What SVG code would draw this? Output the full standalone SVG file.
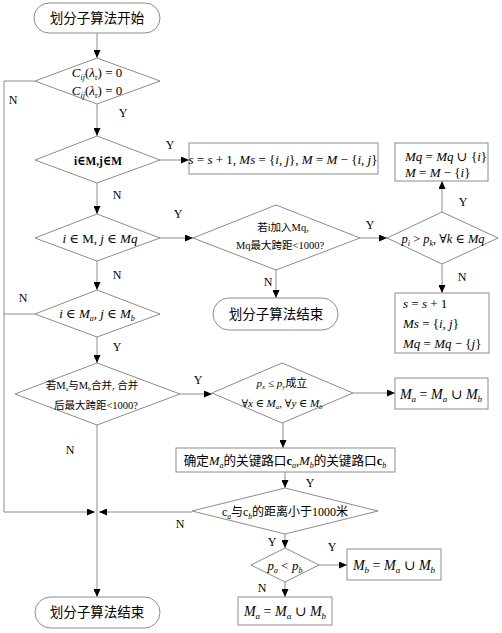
<svg xmlns="http://www.w3.org/2000/svg" width="502" height="633" viewBox="0 0 502 633">
<defs>
<marker id="ah" markerUnits="userSpaceOnUse" markerWidth="8" markerHeight="7" refX="8" refY="3.5" orient="auto">
<path d="M0,0 L8,3.5 L0,7 z" fill="#000"/>
</marker>
<style>
.ln{stroke:#8c8c8c;stroke-width:1;fill:none}
.ar{stroke:#8c8c8c;stroke-width:1;fill:none;marker-end:url(#ah)}
.sh{fill:#fff;stroke:#8c8c8c;stroke-width:1}
text{font-family:"Liberation Serif","DejaVu Serif","Noto Sans CJK SC",serif;fill:#000}
.c{text-anchor:middle}
.i{font-style:italic}
.b{font-weight:bold}
.lb{font-size:12px;text-anchor:middle}
.t{font-size:13.5px;text-anchor:middle}
</style>
</defs>
<rect width="502" height="633" fill="#fff"/>

<g id="connectors">
<path class="ar" d="M97,33 V58"/>
<path class="ar" d="M97,104 V136"/>
<path class="ar" d="M160,160 H189"/>
<path class="ar" d="M97,183 V214"/>
<path class="ar" d="M160,238 H193"/>
<path class="ar" d="M97,261 V290"/>
<path class="ar" d="M276,270 V298"/>
<path class="ar" d="M360,238 H387"/>
<path class="ar" d="M442,212 V181"/>
<path class="ar" d="M442,264 V293"/>
<path class="ar" d="M97,337 V363"/>
<path class="ar" d="M180,394 H212"/>
<path class="ar" d="M353,393 H395"/>
<path class="ar" d="M283,423 V448"/>
<path class="ar" d="M285,472 V488"/>
<path class="ar" d="M285,534 V548"/>
<path class="ar" d="M319,565 H347"/>
<path class="ar" d="M285,582 V597"/>
<path class="ar" d="M97,425 V597"/>
<path class="ar" d="M192,512 H99"/>
<path class="ar" d="M35,81 H4 V512 H95"/>
<path class="ln" d="M35,314 H4"/>
</g>

<g id="labels">
<text class="lb" x="13" y="104">N</text>
<text class="lb" x="123" y="117">Y</text>
<text class="lb" x="170" y="149">Y</text>
<text class="lb" x="117" y="199">N</text>
<text class="lb" x="178" y="218">Y</text>
<text class="lb" x="117" y="279">N</text>
<text class="lb" x="23" y="302">N</text>
<text class="lb" x="117" y="351">Y</text>
<text class="lb" x="370" y="229">Y</text>
<text class="lb" x="268" y="286">N</text>
<text class="lb" x="463" y="206">Y</text>
<text class="lb" x="462" y="281">N</text>
<text class="lb" x="198" y="384">Y</text>
<text class="lb" x="70" y="454">N</text>
<text class="lb" x="310" y="487">Y</text>
<text class="lb" x="180" y="528">N</text>
<text class="lb" x="272" y="546">Y</text>
<text class="lb" x="332" y="551">Y</text>
<text class="lb" x="262" y="592">N</text>
</g>

<g id="start">
<rect class="sh" x="34" y="3" width="126" height="30" rx="15"/>
<text class="t" x="97" y="23">划分子算法开始</text>
</g>

<g id="d1">
<polygon class="sh" points="97,58 160,81 97,104 35,81"/>
<text class="c" x="97" y="77" font-size="13"><tspan class="i">C</tspan><tspan class="i" font-size="8" dy="3">ij</tspan><tspan dy="-3">(</tspan><tspan class="i">λ</tspan><tspan font-size="8" dy="3">r</tspan><tspan dy="-3">) = 0</tspan></text>
<text class="c" x="97" y="95" font-size="13"><tspan class="i">C</tspan><tspan class="i" font-size="8" dy="3">ij</tspan><tspan dy="-3">(</tspan><tspan class="i">λ</tspan><tspan font-size="8" dy="3">r</tspan><tspan dy="-3">) = 0</tspan></text>
</g>

<g id="d2">
<polygon class="sh" points="97,136 160,160 97,183 35,160"/>
<text class="b" x="74" y="165" font-size="13" textLength="48" lengthAdjust="spacingAndGlyphs">i∈M,j∈M</text>
</g>

<g id="box1">
<rect class="sh" x="189" y="143" width="189" height="31"/>
<text class="c" x="283" y="164" font-size="13"><tspan class="i">s</tspan> = <tspan class="i">s</tspan> + 1, <tspan class="i">Ms</tspan> = {<tspan class="i">i</tspan>, <tspan class="i">j</tspan>}, <tspan class="i">M</tspan> = <tspan class="i">M</tspan> − {<tspan class="i">i</tspan>, <tspan class="i">j</tspan>}</text>
</g>

<g id="boxMq">
<rect class="sh" x="395" y="143" width="93" height="38"/>
<text x="405" y="161" font-size="13"><tspan class="i">Mq</tspan> = <tspan class="i">Mq</tspan> ∪ {<tspan class="i">i</tspan>}</text>
<text x="405" y="177" font-size="13"><tspan class="i">M</tspan> = <tspan class="i">M</tspan> − {<tspan class="i">i</tspan>}</text>
</g>

<g id="d3">
<polygon class="sh" points="97,214 160,238 97,261 35,238"/>
<text class="c" x="100" y="243" font-size="13"><tspan class="i">i</tspan> ∈ M, <tspan class="i">j</tspan> ∈ <tspan class="i">Mq</tspan></text>
</g>

<g id="d4">
<polygon class="sh" points="97,290 160,314 97,337 35,314"/>
<text class="c" x="97" y="318" font-size="13"><tspan class="i">i</tspan> ∈ <tspan class="i">M</tspan><tspan class="i" font-size="8" dy="3">a</tspan><tspan dy="-3">, </tspan><tspan class="i">j</tspan> ∈ <tspan class="i">M</tspan><tspan class="i" font-size="8" dy="3">b</tspan></text>
</g>

<g id="d5">
<polygon class="sh" points="276,205 360,238 276,270 193,238"/>
<text class="c" x="283" y="231" font-size="10.5">若i加入Mq,</text>
<text class="c" x="280" y="249" font-size="10.5">Mq最大跨距&lt;1000?</text>
</g>

<g id="end1">
<rect class="sh" x="213" y="298" width="125" height="32" rx="16"/>
<text class="t" x="276" y="319">划分子算法结束</text>
</g>

<g id="d6">
<polygon class="sh" points="442,212 498,238 442,264 387,238"/>
<text class="c" x="443" y="243" font-size="12.5"><tspan class="i">p</tspan><tspan class="i" font-size="8" dy="3">i</tspan><tspan dy="-3"> &gt; </tspan><tspan class="i">p</tspan><tspan class="i" font-size="8" dy="3">k</tspan><tspan dy="-3">, ∀</tspan><tspan class="i">k</tspan> ∈ <tspan class="i">Mq</tspan></text>
</g>

<g id="boxMs">
<rect class="sh" x="395" y="293" width="94" height="60"/>
<text x="403" y="308" font-size="13"><tspan class="i">s</tspan> = <tspan class="i">s</tspan> + 1</text>
<text x="403" y="328" font-size="13"><tspan class="i">Ms</tspan> = {<tspan class="i">i</tspan>, <tspan class="i">j</tspan>}</text>
<text x="403" y="348" font-size="13"><tspan class="i">Mq</tspan> = <tspan class="i">Mq</tspan> − {<tspan class="i">j</tspan>}</text>
</g>

<g id="d7">
<polygon class="sh" points="97,363 180,394 97,425 15,394"/>
<text class="c" x="92" y="389" font-size="10.5">若M<tspan font-size="6" dy="2">a</tspan><tspan dy="-2">与M</tspan><tspan font-size="6" dy="2">b</tspan><tspan dy="-2">合并, 合并</tspan></text>
<text class="c" x="96" y="409" font-size="10.5">后最大跨距&lt;1000?</text>
</g>

<g id="d8">
<polygon class="sh" points="282,363 353,393 282,423 212,393"/>
<text class="c" x="282" y="387" font-size="11"><tspan class="i">p</tspan><tspan class="i" font-size="7" dy="2">x</tspan><tspan dy="-2"> ≤ </tspan><tspan class="i">p</tspan><tspan class="i" font-size="7" dy="2">y</tspan><tspan dy="-2">成立</tspan></text>
<text class="c" x="282" y="407" font-size="11">∀<tspan class="i">x</tspan> ∈ <tspan class="i">M</tspan><tspan class="i" font-size="7" dy="2">a</tspan><tspan dy="-2">, ∀</tspan><tspan class="i">y</tspan> ∈ <tspan class="i">M</tspan><tspan class="i" font-size="7" dy="2">b</tspan></text>
</g>

<g id="boxMaMb1">
<rect class="sh" x="395" y="378" width="93" height="31"/>
<text class="c" x="441" y="399" font-size="14"><tspan class="i">M</tspan><tspan class="i" font-size="9" dy="3">a</tspan><tspan dy="-3"> = </tspan><tspan class="i">M</tspan><tspan class="i" font-size="9" dy="3">a</tspan><tspan dy="-3"> ∪ </tspan><tspan class="i">M</tspan><tspan class="i" font-size="9" dy="3">b</tspan></text>
</g>

<g id="boxKey">
<rect class="sh" x="176" y="448" width="219" height="24"/>
<text class="c" x="285" y="465" font-size="12.6">确定<tspan class="i">M</tspan><tspan class="i" font-size="8" dy="3">a</tspan><tspan dy="-3">的关键路口</tspan><tspan class="b">c</tspan><tspan class="i" font-size="8" dy="3">a</tspan><tspan dy="-3">,</tspan><tspan class="i">M</tspan><tspan class="i" font-size="8" dy="3">b</tspan><tspan dy="-3">的关键路口</tspan><tspan class="b">c</tspan><tspan class="i" font-size="8" dy="3">b</tspan></text>
</g>

<g id="d9">
<polygon class="sh" points="285,488 378,511 285,534 192,511"/>
<text class="c" x="285" y="516" font-size="12">c<tspan class="i" font-size="7.5" dy="3">a</tspan><tspan dy="-3">与c</tspan><tspan class="i" font-size="7.5" dy="3">b</tspan><tspan dy="-3">的距离小于1000米</tspan></text>
</g>

<g id="d10">
<polygon class="sh" points="285,548 319,565 285,582 251,565"/>
<text class="c" x="285" y="570" font-size="13"><tspan class="i">p</tspan><tspan class="i" font-size="8" dy="3">a</tspan><tspan dy="-3"> &lt; </tspan><tspan class="i">p</tspan><tspan class="i" font-size="8" dy="3">b</tspan></text>
</g>

<g id="boxMb">
<rect class="sh" x="347" y="549" width="94" height="31"/>
<text class="c" x="394" y="570" font-size="14"><tspan class="i">M</tspan><tspan class="i" font-size="9" dy="3">b</tspan><tspan dy="-3"> = </tspan><tspan class="i">M</tspan><tspan class="i" font-size="9" dy="3">a</tspan><tspan dy="-3"> ∪ </tspan><tspan class="i">M</tspan><tspan class="i" font-size="9" dy="3">b</tspan></text>
</g>

<g id="boxMa2">
<rect class="sh" x="238" y="597" width="94" height="28"/>
<text class="c" x="285" y="616" font-size="14"><tspan class="i">M</tspan><tspan class="i" font-size="9" dy="3">a</tspan><tspan dy="-3"> = </tspan><tspan class="i">M</tspan><tspan class="i" font-size="9" dy="3">a</tspan><tspan dy="-3"> ∪ </tspan><tspan class="i">M</tspan><tspan class="i" font-size="9" dy="3">b</tspan></text>
</g>

<g id="end2">
<rect class="sh" x="35" y="597" width="125" height="31" rx="15.5"/>
<text class="t" x="97" y="617">划分子算法结束</text>
</g>
</svg>
